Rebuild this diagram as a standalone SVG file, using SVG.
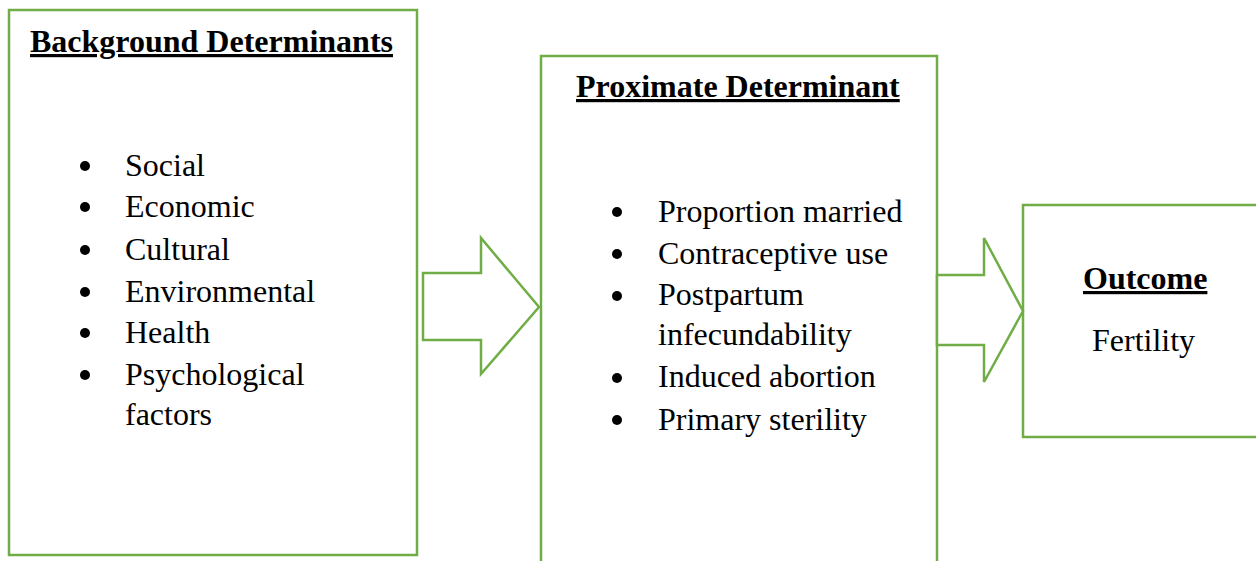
<svg xmlns="http://www.w3.org/2000/svg" width="1256" height="561" viewBox="0 0 1256 561">
<style>
.box{fill:#fff;stroke:#70AD47;stroke-width:2.5}
.arrow{fill:#fff;stroke:#70AD47;stroke-width:2.5;stroke-linejoin:miter}
.h{font-family:"Liberation Serif","Times New Roman",serif;font-size:32px;font-weight:bold;fill:#000;text-decoration:underline}
.t{font-family:"Liberation Serif","Times New Roman",serif;font-size:32px;fill:#000}
.b{fill:#000}
</style>
<rect width="1256" height="561" fill="#fff"/>
<g id="background">
<rect class="box" x="9" y="10" width="408" height="545"/>
<text class="h" x="30" y="52">Background Determinants</text>
<g class="b">
<circle cx="85" cy="166" r="5"/><circle cx="85" cy="207" r="5"/><circle cx="85" cy="250" r="5"/>
<circle cx="85" cy="292" r="5"/><circle cx="85" cy="333" r="5"/><circle cx="85" cy="375" r="5"/>
</g>
<text class="t" x="125" y="176">Social</text>
<text class="t" x="125" y="217">Economic</text>
<text class="t" x="125" y="260">Cultural</text>
<text class="t" x="125" y="302">Environmental</text>
<text class="t" x="125" y="343">Health</text>
<text class="t" x="125" y="385">Psychological</text>
<text class="t" x="125" y="425">factors</text>
</g>
<g id="proximate">
<rect class="box" x="541" y="56" width="396" height="520"/>
<text class="h" x="576" y="97">Proximate Determinant</text>
<g class="b">
<circle cx="617" cy="212" r="5"/><circle cx="617" cy="254" r="5"/><circle cx="617" cy="296" r="5"/>
<circle cx="617" cy="378" r="5"/><circle cx="617" cy="420" r="5"/>
</g>
<text class="t" x="658" y="222">Proportion married</text>
<text class="t" x="658" y="264">Contraceptive use</text>
<text class="t" x="658" y="305">Postpartum</text>
<text class="t" x="658" y="345">infecundability</text>
<text class="t" x="658" y="387">Induced abortion</text>
<text class="t" x="658" y="430">Primary sterility</text>
</g>
<g id="outcome">
<rect class="box" x="1023" y="205" width="250" height="232"/>
<text class="h" x="1083" y="289">Outcome</text>
<text class="t" x="1092" y="351">Fertility</text>
</g>
<g id="connectors">
<polygon class="arrow" points="423,273 481,273 481,238 539,307 481,374 481,340 423,340"/>
<polygon class="arrow" points="937,275 984,275 984,238 1023,311 984,382 984,345 937,345"/>
</g>
</svg>
